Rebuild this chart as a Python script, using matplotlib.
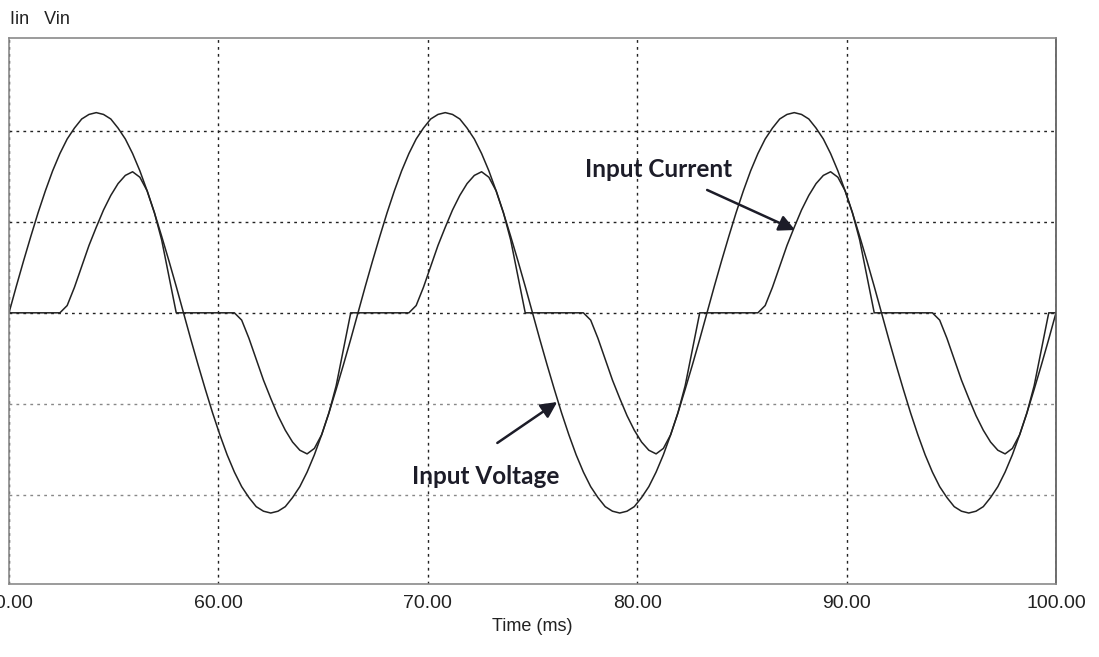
import numpy as np
import matplotlib
matplotlib.use("Agg")
import matplotlib.pyplot as plt

# time grid: 3 mains cycles (60 Hz), sampled every 7.5 degrees
time_ms = np.linspace(50, 100, 145)

# input voltage (arbitrary units, 1 unit = 1 grid division)
vin = [
    0, .29, .57, .84, 1.10, 1.34, 1.56, 1.75, 1.91, 2.03, 2.13, 2.18, 2.20, 2.18, 2.13, 2.03, 1.91, 1.75, 1.56, 1.34, 1.10, .84, .57, .29,
    0, -.29, -.57, -.84, -1.10, -1.34, -1.56, -1.75, -1.91, -2.03, -2.13, -2.18, -2.20, -2.18, -2.13, -2.03, -1.91, -1.75, -1.56, -1.34, -1.10, -.84, -.57, -.29,
    0, .29, .57, .84, 1.10, 1.34, 1.56, 1.75, 1.91, 2.03, 2.13, 2.18, 2.20, 2.18, 2.13, 2.03, 1.91, 1.75, 1.56, 1.34, 1.10, .84, .57, .29,
    0, -.29, -.57, -.84, -1.10, -1.34, -1.56, -1.75, -1.91, -2.03, -2.13, -2.18, -2.20, -2.18, -2.13, -2.03, -1.91, -1.75, -1.56, -1.34, -1.10, -.84, -.57, -.29,
    0, .29, .57, .84, 1.10, 1.34, 1.56, 1.75, 1.91, 2.03, 2.13, 2.18, 2.20, 2.18, 2.13, 2.03, 1.91, 1.75, 1.56, 1.34, 1.10, .84, .57, .29,
    0, -.29, -.57, -.84, -1.10, -1.34, -1.56, -1.75, -1.91, -2.03, -2.13, -2.18, -2.20, -2.18, -2.13, -2.03, -1.91, -1.75, -1.56, -1.34, -1.10, -.84, -.57, -.29,
    0,
]

# input current
iin = [
    0, 0, 0, 0, 0, 0, 0, 0, .08, .28, .51, .74, .94, 1.13, 1.29, 1.42, 1.51, 1.55, 1.49, 1.34, 1.10, .80, .40, 0,
    0, 0, 0, 0, 0, 0, 0, 0, -.08, -.28, -.51, -.74, -.94, -1.13, -1.29, -1.42, -1.51, -1.55, -1.49, -1.34, -1.10, -.80, -.40, 0,
    0, 0, 0, 0, 0, 0, 0, 0, .08, .28, .51, .74, .94, 1.13, 1.29, 1.42, 1.51, 1.55, 1.49, 1.34, 1.10, .80, .40, 0,
    0, 0, 0, 0, 0, 0, 0, 0, -.08, -.28, -.51, -.74, -.94, -1.13, -1.29, -1.42, -1.51, -1.55, -1.49, -1.34, -1.10, -.80, -.40, 0,
    0, 0, 0, 0, 0, 0, 0, 0, .08, .28, .51, .74, .94, 1.13, 1.29, 1.42, 1.51, 1.55, 1.49, 1.34, 1.10, .80, .40, 0,
    0, 0, 0, 0, 0, 0, 0, 0, -.08, -.28, -.51, -.74, -.94, -1.13, -1.29, -1.42, -1.51, -1.55, -1.49, -1.34, -1.10, -.80, -.40, 0,
    0,
]

xticks = [50, 60, 70, 80, 90, 100]
xtick_labels = ["50.00", "60.00", "70.00", "80.00", "90.00", "100.00"]
ygrid = [-2, -1, 0, 1, 2]

plt.rcParams['font.family'] = ['Liberation Sans', 'DejaVu Sans']

fig = plt.figure(figsize=(10.99, 6.57), dpi=100)
ax = fig.add_axes([9 / 1099, 1 - 584 / 657, (1056 - 9) / 1099, (584 - 38) / 657])

ax.plot(time_ms, vin, color='#222222', lw=1.1)
ax.plot(time_ms, iin, color='#222222', lw=1.1)

ax.set_xlim(50, 100)
ax.set_ylim(-2.98, 3.02)
ax.set_xticks(xticks)
ax.set_xticklabels(xtick_labels, fontsize=14, color='#222222')
ax.set_yticks(ygrid)
ax.set_yticklabels([])
ax.tick_params(length=0, pad=8)

ax.grid(True, color='#222222', linestyle=(0, (2, 3)), lw=1)
for val, gl in zip(ygrid, ax.get_ygridlines()):
    if val < 0:
        gl.set_color('#888888')

for s in ax.spines.values():
    s.set_color('#8a8a8a')
    s.set_linewidth(1.2)
ax.spines['right'].set_color('#555555')

ax.set_xlabel("Time (ms)", fontsize=13, color='#222222', labelpad=4)
fig.text(10 / 1099, 1 - 24 / 657, "Iin   Vin", fontsize=13, color='#222222')

label_font = dict(fontsize=17.5, fontweight='bold', family=['Lato', 'DejaVu Sans'],
                  color='#1c1c28', va='center', ha='left')
arrow = dict(arrowstyle='-|>', color='#1c1c28', lw=1.8, mutation_scale=24,
             shrinkA=0, shrinkB=0)

ax.text(77.5, 1.57, "Input Current", **label_font)
ax.annotate("", xy=(87.54, 0.91), xytext=(83.34, 1.35), arrowprops=arrow)
ax.text(69.26, -1.80, "Input Voltage", **label_font)
ax.annotate("", xy=(76.18, -0.98), xytext=(73.32, -1.43), arrowprops=arrow)

fig.savefig("out.png", dpi=100)
